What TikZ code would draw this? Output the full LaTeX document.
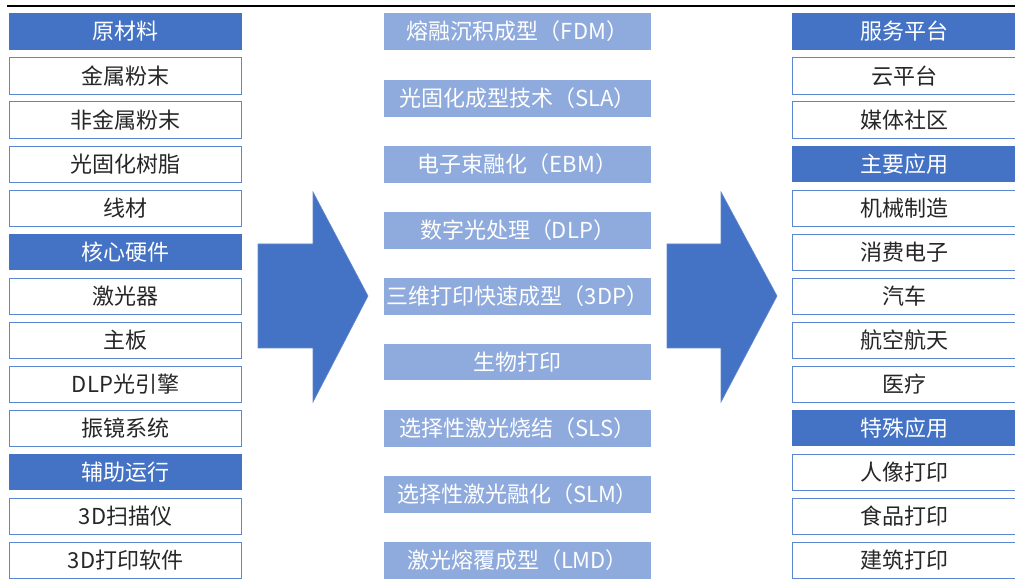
\documentclass[tikz,border=0pt]{standalone}
\usepackage{fontspec}
\setmainfont{Noto Sans CJK SC}
\definecolor{hdrblue}{HTML}{4472C4}
\definecolor{midblue}{HTML}{8FAADC}
\definecolor{itemborder}{HTML}{5B86D0}
\definecolor{txtdark}{HTML}{262626}
\tikzset{
  cell/.style={minimum height=36.5pt, inner sep=0pt, font=\fontsize{22}{24}\selectfont},
  hdr/.style={cell, fill=hdrblue, text=white, minimum width=233pt},
  item/.style={cell, draw=itemborder, line width=1.1pt, fill=white, text=txtdark, minimum width=232pt},
  rhdr/.style={cell, fill=hdrblue, text=white, minimum width=224pt},
  ritem/.style={cell, draw=itemborder, line width=1.1pt, fill=white, text=txtdark, minimum width=223pt},
  mid/.style={cell, fill=midblue, text=white, minimum width=267pt},
  bigarrow/.style={fill=hdrblue, draw=hdrblue!85!white, line width=0.6pt}
}
\begin{document}
\begin{tikzpicture}[x=1pt,y=-1pt]
\useasboundingbox (0,0) rectangle (1015,585);
\draw[line width=2.2pt] (7,6) -- (1015,6);
% left column
\def\lx{125.5}
\node[hdr]  (l0)  at (\lx, 31.5) {原材料};
\node[item] (l1)  at (\lx, 76) {金属粉末};
\node[item] (l2)  at (\lx, 120) {非金属粉末};
\node[item] (l3)  at (\lx, 164.5) {光固化树脂};
\node[item] (l4)  at (\lx, 208.5) {线材};
\node[hdr]  (l5)  at (\lx, 252) {核心硬件};
\node[item] (l6)  at (\lx, 296.5) {激光器};
\node[item] (l7)  at (\lx, 340.5) {主板};
\node[item] (l8)  at (\lx, 384.5) {DLP光引擎};
\node[item] (l9)  at (\lx, 428.5) {振镜系统};
\node[hdr]  (l10) at (\lx, 472) {辅助运行};
\node[item] (l11) at (\lx, 516.5) {3D扫描仪};
\node[item] (l12) at (\lx, 560.5) {3D打印软件};
% middle column
\def\mx{517.5}
\node[mid] (m0) at (\mx, 31.5) {熔融沉积成型（FDM）};
\node[mid] (m1) at (\mx, 98.5) {光固化成型技术（SLA）};
\node[mid] (m2) at (\mx, 164.5) {电子束融化（EBM）};
\node[mid] (m3) at (\mx, 230.5) {数字光处理（DLP）};
\node[mid] (m4) at (\mx, 296.5) {三维打印快速成型（3DP）};
\node[mid] (m5) at (\mx, 362) {生物打印};
\node[mid] (m6) at (\mx, 428.5) {选择性激光烧结（SLS）};
\node[mid] (m7) at (\mx, 494.5) {选择性激光融化（SLM）};
\node[mid] (m8) at (\mx, 560.5) {激光熔覆成型（LMD）};
% right column
\def\rx{904}
\node[rhdr]  (r0)  at (\rx, 31.5) {服务平台};
\node[ritem] (r1)  at (\rx, 76) {云平台};
\node[ritem] (r2)  at (\rx, 120) {媒体社区};
\node[rhdr]  (r3)  at (\rx, 164) {主要应用};
\node[ritem] (r4)  at (\rx, 208.5) {机械制造};
\node[ritem] (r5)  at (\rx, 252.5) {消费电子};
\node[ritem] (r6)  at (\rx, 296.5) {汽车};
\node[ritem] (r7)  at (\rx, 340.5) {航空航天};
\node[ritem] (r8)  at (\rx, 384.5) {医疗};
\node[rhdr]  (r9)  at (\rx, 428) {特殊应用};
\node[ritem] (r10) at (\rx, 472.5) {人像打印};
\node[ritem] (r11) at (\rx, 516.5) {食品打印};
\node[ritem] (r12) at (\rx, 560.5) {建筑打印};
% big arrows
\draw[bigarrow] (258,244) -- (313,244) -- (313,192) -- (368,296) -- (313,402) -- (313,348) -- (258,348) -- cycle;
\draw[bigarrow] (667,244) -- (721,244) -- (721,192) -- (777,296) -- (721,402) -- (721,348) -- (667,348) -- cycle;
\end{tikzpicture}
\end{document}
